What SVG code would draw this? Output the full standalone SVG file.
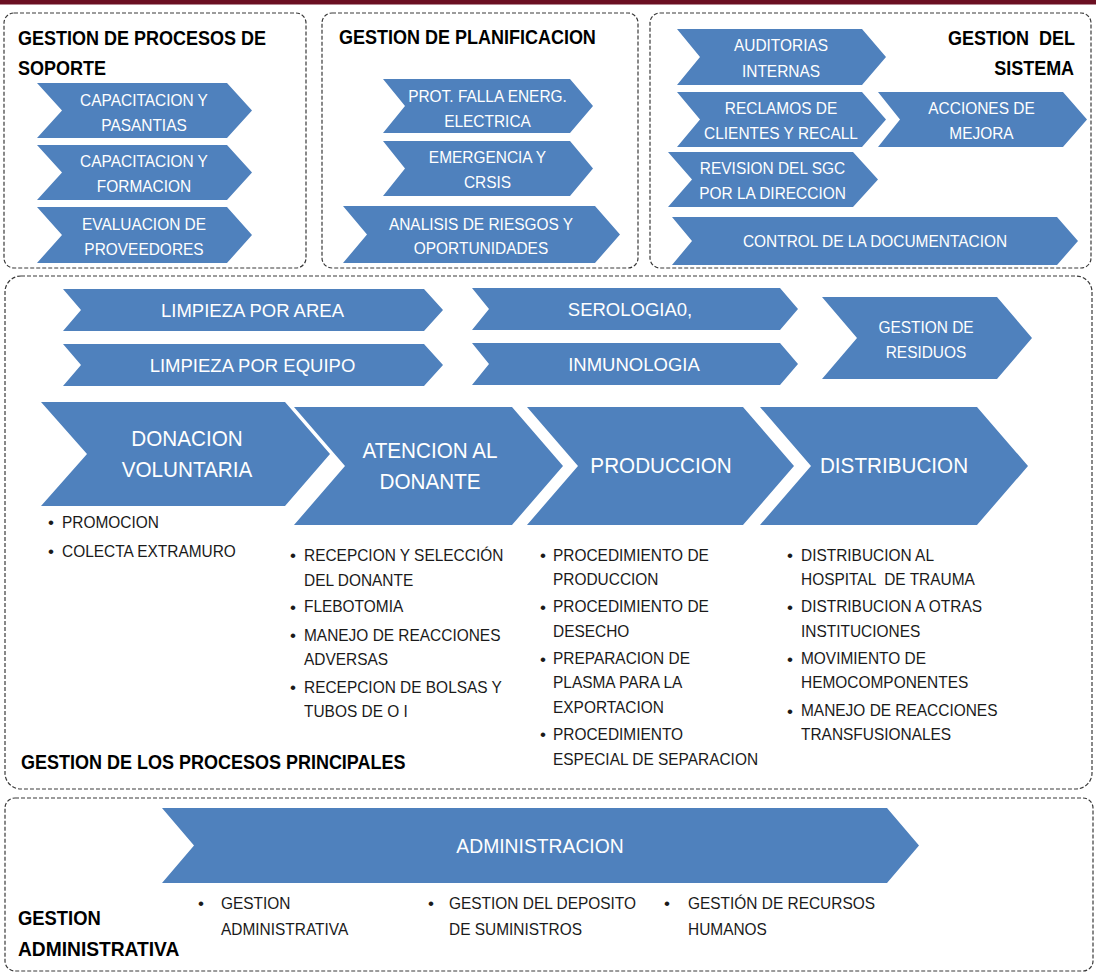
<svg xmlns="http://www.w3.org/2000/svg" width="1096" height="973" viewBox="0 0 1096 973">
<style>
.box{fill:#fff;stroke:#3a3a3a;stroke-width:1.2;stroke-dasharray:4 2}
.chev{fill:#4f81bd}
.ct{font-family:"Liberation Sans",Arial,sans-serif;font-size:16.8px;fill:#fff;text-anchor:middle}
.cm{font-family:"Liberation Sans",Arial,sans-serif;font-size:18.5px;fill:#fff;text-anchor:middle}
.cb{font-family:"Liberation Sans",Arial,sans-serif;font-size:22px;fill:#fff;text-anchor:middle}
.ti{font-family:"Liberation Sans",Arial,sans-serif;font-size:20px;font-weight:bold;fill:#000}
.bl{font-family:"Liberation Sans",Arial,sans-serif;font-size:16.8px;fill:#1a1a1a}
.dot{font-family:"Liberation Sans",Arial,sans-serif;font-size:17px;fill:#1a1a1a}
</style>
<rect x="0" y="0" width="1096" height="973" fill="#fff"/>
<rect x="0" y="0" width="1096" height="4.5" fill="#6b0f22"/>

<g id="soporte">
<rect class="box" x="4" y="13" width="302" height="255" rx="10"/>
<g transform="translate(18,0) scale(0.9,1)">
<text class="ti" x="0" y="45">GESTION DE PROCESOS DE</text>
<text class="ti" x="0" y="75">SOPORTE</text>
</g>
</g>
<g id="capacitacion-pasantias">
<polygon class="chev" points="37,83 227,83 252,110.5 227,138 37,138 62,110.5"/>
<g transform="translate(144,0) scale(0.92,1)">
<text class="ct" x="0" y="106.5">CAPACITACION Y</text>
<text class="ct" x="0" y="131.5">PASANTIAS</text>
</g>
</g>
<g id="capacitacion-formacion">
<polygon class="chev" points="37,145 227,145 252,172.5 227,200 37,200 62,172.5"/>
<g transform="translate(144,0) scale(0.92,1)">
<text class="ct" x="0" y="167">CAPACITACION Y</text>
<text class="ct" x="0" y="192">FORMACION</text>
</g>
</g>
<g id="evaluacion-proveedores">
<polygon class="chev" points="37,207 227,207 252,235 227,263 37,263 62,235"/>
<g transform="translate(144,0) scale(0.92,1)">
<text class="ct" x="0" y="230.5">EVALUACION DE</text>
<text class="ct" x="0" y="255">PROVEEDORES</text>
</g>
</g>

<g id="planificacion">
<rect class="box" x="322" y="13" width="316" height="255" rx="10"/>
<g transform="translate(339,0) scale(0.9,1)">
<text class="ti" x="0" y="44">GESTION DE PLANIFICACION</text>
</g>
</g>
<g id="prot-falla">
<polygon class="chev" points="383,79 570,79 593,106 570,133 383,133 405,106"/>
<g transform="translate(487.5,0) scale(0.92,1)">
<text class="ct" x="0" y="102">PROT. FALLA ENERG.</text>
<text class="ct" x="0" y="127">ELECTRICA</text>
</g>
</g>
<g id="emergencia">
<polygon class="chev" points="383,141 570,141 593,168.5 570,196 383,196 405,168.5"/>
<g transform="translate(487.5,0) scale(0.92,1)">
<text class="ct" x="0" y="163">EMERGENCIA Y</text>
<text class="ct" x="0" y="188">CRSIS</text>
</g>
</g>
<g id="analisis-riesgos">
<polygon class="chev" points="343,206 595,206 620,234.5 595,263 343,263 367,234.5"/>
<g transform="translate(481,0) scale(0.92,1)">
<text class="ct" x="0" y="230">ANALISIS DE RIESGOS Y</text>
<text class="ct" x="0" y="254">OPORTUNIDADES</text>
</g>
</g>

<g id="sistema">
<rect class="box" x="650" y="13" width="441" height="255" rx="10"/>
<g transform="translate(1075,0) scale(0.9,1)">
<text class="ti" x="0" y="45" text-anchor="end" xml:space="preserve">GESTION  DEL</text>
<text class="ti" x="-1" y="75" text-anchor="end">SISTEMA</text>
</g>
</g>
<g id="auditorias">
<polygon class="chev" points="677,29 862,29 886,57 862,85 677,85 700,57"/>
<g transform="translate(781,0) scale(0.92,1)">
<text class="ct" x="0" y="51">AUDITORIAS</text>
<text class="ct" x="0" y="77">INTERNAS</text>
</g>
</g>
<g id="reclamos">
<polygon class="chev" points="677,92 862,92 886,119.5 862,147 677,147 700,119.5"/>
<g transform="translate(781,0) scale(0.92,1)">
<text class="ct" x="0" y="114">RECLAMOS DE</text>
<text class="ct" x="0" y="139">CLIENTES Y RECALL</text>
</g>
</g>
<g id="acciones-mejora">
<polygon class="chev" points="878,92 1063,92 1087,119.5 1063,147 878,147 900,119.5"/>
<g transform="translate(981.5,0) scale(0.92,1)">
<text class="ct" x="0" y="114">ACCIONES DE</text>
<text class="ct" x="0" y="139">MEJORA</text>
</g>
</g>
<g id="revision-sgc">
<polygon class="chev" points="668,152 853,152 878,179.5 853,207 668,207 692,179.5"/>
<g transform="translate(772.5,0) scale(0.92,1)">
<text class="ct" x="0" y="174">REVISION DEL SGC</text>
<text class="ct" x="0" y="199">POR LA DIRECCION</text>
</g>
</g>
<g id="control-documentacion">
<polygon class="chev" points="672,217 1057,217 1078,241 1057,265 672,265 692,241"/>
<g transform="translate(875,0) scale(0.92,1)">
<text class="ct" x="0" y="247.5">CONTROL DE LA DOCUMENTACION</text>
</g>
</g>

<g id="principales">
<rect class="box" x="5" y="276" width="1087" height="513" rx="16"/>
<g transform="translate(21,0) scale(0.9,1)">
<text class="ti" x="0" y="769">GESTION DE LOS PROCESOS PRINCIPALES</text>
</g>
</g>
<g id="limpieza-area">
<polygon class="chev" points="63,289 424,289 443,310 424,331 63,331 81,310"/>
<text class="cm" x="252.5" y="316.5">LIMPIEZA POR AREA</text>
</g>
<g id="limpieza-equipo">
<polygon class="chev" points="63,344 424,344 443,365 424,386 63,386 81,365"/>
<text class="cm" x="252.5" y="371.5">LIMPIEZA POR EQUIPO</text>
</g>
<g id="serologia">
<polygon class="chev" points="472,288 780,288 798,309 780,330 472,330 489,309"/>
<text class="cm" x="630" y="315.5">SEROLOGIA0,</text>
</g>
<g id="inmunologia">
<polygon class="chev" points="472,343 780,343 798,364 780,385 472,385 489,364"/>
<text class="cm" x="634" y="370.5">INMUNOLOGIA</text>
</g>
<g id="residuos">
<polygon class="chev" points="822,297 997,297 1032,338 997,379 822,379 857,338"/>
<g transform="translate(926,0) scale(0.92,1)">
<text class="ct" x="0" y="333">GESTION DE</text>
<text class="ct" x="0" y="358">RESIDUOS</text>
</g>
</g>
<g id="donacion">
<polygon class="chev" points="41,402 285,402 330,454 285,506 41,506 87,454"/>
<g transform="translate(187,0) scale(0.94,1)">
<text class="cb" x="0" y="446">DONACION</text>
<text class="cb" x="0" y="477">VOLUNTARIA</text>
</g>
<text class="dot" x="48" y="528">•</text>
<text class="dot" x="48" y="557">•</text>
<g transform="translate(62,0) scale(0.92,1)">
<text class="bl" x="0" y="528">PROMOCION</text>
<text class="bl" x="0" y="557">COLECTA EXTRAMURO</text>
</g>
</g>
<g id="atencion">
<polygon class="chev" points="294,407 512,407 563,466 512,525 294,525 345,466"/>
<g transform="translate(430,0) scale(0.94,1)">
<text class="cb" x="0" y="458">ATENCION AL</text>
<text class="cb" x="0" y="489">DONANTE</text>
</g>
<text class="dot" x="290" y="561">•</text>
<text class="dot" x="290" y="612.5">•</text>
<text class="dot" x="290" y="641">•</text>
<text class="dot" x="290" y="693">•</text>
<g transform="translate(304,0) scale(0.92,1)">
<text class="bl" x="0" y="561">RECEPCION Y SELECCIÓN</text>
<text class="bl" x="0" y="586">DEL DONANTE</text>
<text class="bl" x="0" y="612.5">FLEBOTOMIA</text>
<text class="bl" x="0" y="641">MANEJO DE REACCIONES</text>
<text class="bl" x="0" y="665">ADVERSAS</text>
<text class="bl" x="0" y="693">RECEPCION DE BOLSAS Y</text>
<text class="bl" x="0" y="717">TUBOS DE O I</text>
</g>
</g>
<g id="produccion">
<polygon class="chev" points="527,407 743,407 794,466 743,525 527,525 578,466"/>
<g transform="translate(661,0) scale(0.94,1)">
<text class="cb" x="0" y="473.5">PRODUCCION</text>
</g>
<text class="dot" x="540" y="561">•</text>
<text class="dot" x="540" y="612.5">•</text>
<text class="dot" x="540" y="664.5">•</text>
<text class="dot" x="540" y="740">•</text>
<g transform="translate(553,0) scale(0.92,1)">
<text class="bl" x="0" y="561">PROCEDIMIENTO DE</text>
<text class="bl" x="0" y="585.5">PRODUCCION</text>
<text class="bl" x="0" y="612.5">PROCEDIMIENTO DE</text>
<text class="bl" x="0" y="637">DESECHO</text>
<text class="bl" x="0" y="664.5">PREPARACION DE</text>
<text class="bl" x="0" y="688.5">PLASMA PARA LA</text>
<text class="bl" x="0" y="713">EXPORTACION</text>
<text class="bl" x="0" y="740">PROCEDIMIENTO</text>
<text class="bl" x="0" y="765">ESPECIAL DE SEPARACION</text>
</g>
</g>
<g id="distribucion">
<polygon class="chev" points="760,407 977,407 1028,466 977,525 760,525 811,466"/>
<g transform="translate(894,0) scale(0.94,1)">
<text class="cb" x="0" y="473.5">DISTRIBUCION</text>
</g>
<text class="dot" x="787" y="561">•</text>
<text class="dot" x="787" y="612.5">•</text>
<text class="dot" x="787" y="664.5">•</text>
<text class="dot" x="787" y="716.5">•</text>
<g transform="translate(801,0) scale(0.92,1)">
<text class="bl" x="0" y="561">DISTRIBUCION AL</text>
<text class="bl" x="0" y="585.5" xml:space="preserve">HOSPITAL  DE TRAUMA</text>
<text class="bl" x="0" y="612.5">DISTRIBUCION A OTRAS</text>
<text class="bl" x="0" y="637">INSTITUCIONES</text>
<text class="bl" x="0" y="664.5">MOVIMIENTO DE</text>
<text class="bl" x="0" y="688.5">HEMOCOMPONENTES</text>
<text class="bl" x="0" y="716.5">MANEJO DE REACCIONES</text>
<text class="bl" x="0" y="740">TRANSFUSIONALES</text>
</g>
</g>

<g id="administrativa">
<rect class="box" x="5" y="798" width="1088" height="173" rx="10"/>
<g transform="translate(18,0) scale(0.92,1)">
<text class="ti" x="0" y="925">GESTION</text>
</g>
<g transform="translate(18,0) scale(0.96,1)">
<text class="ti" x="0" y="956">ADMINISTRATIVA</text>
</g>
</g>
<g id="administracion">
<polygon class="chev" points="162,808 887,808 919,845.5 887,883 162,883 194,845.5"/>
<g transform="translate(540,0) scale(0.92,1)">
<text class="cb" x="0" y="853" style="font-size:21px">ADMINISTRACION</text>
</g>
<text class="dot" x="198" y="909">•</text>
<text class="dot" x="428" y="909">•</text>
<text class="dot" x="664" y="909">•</text>
<g transform="translate(221,0) scale(0.92,1)">
<text class="bl" x="0" y="909">GESTION</text>
<text class="bl" x="0" y="935">ADMINISTRATIVA</text>
</g>
<g transform="translate(449,0) scale(0.92,1)">
<text class="bl" x="0" y="909">GESTION DEL DEPOSITO</text>
<text class="bl" x="0" y="935">DE SUMINISTROS</text>
</g>
<g transform="translate(688,0) scale(0.92,1)">
<text class="bl" x="0" y="909">GESTIÓN DE RECURSOS</text>
<text class="bl" x="0" y="935">HUMANOS</text>
</g>
</g>
<g id="connectors"/>
</svg>
